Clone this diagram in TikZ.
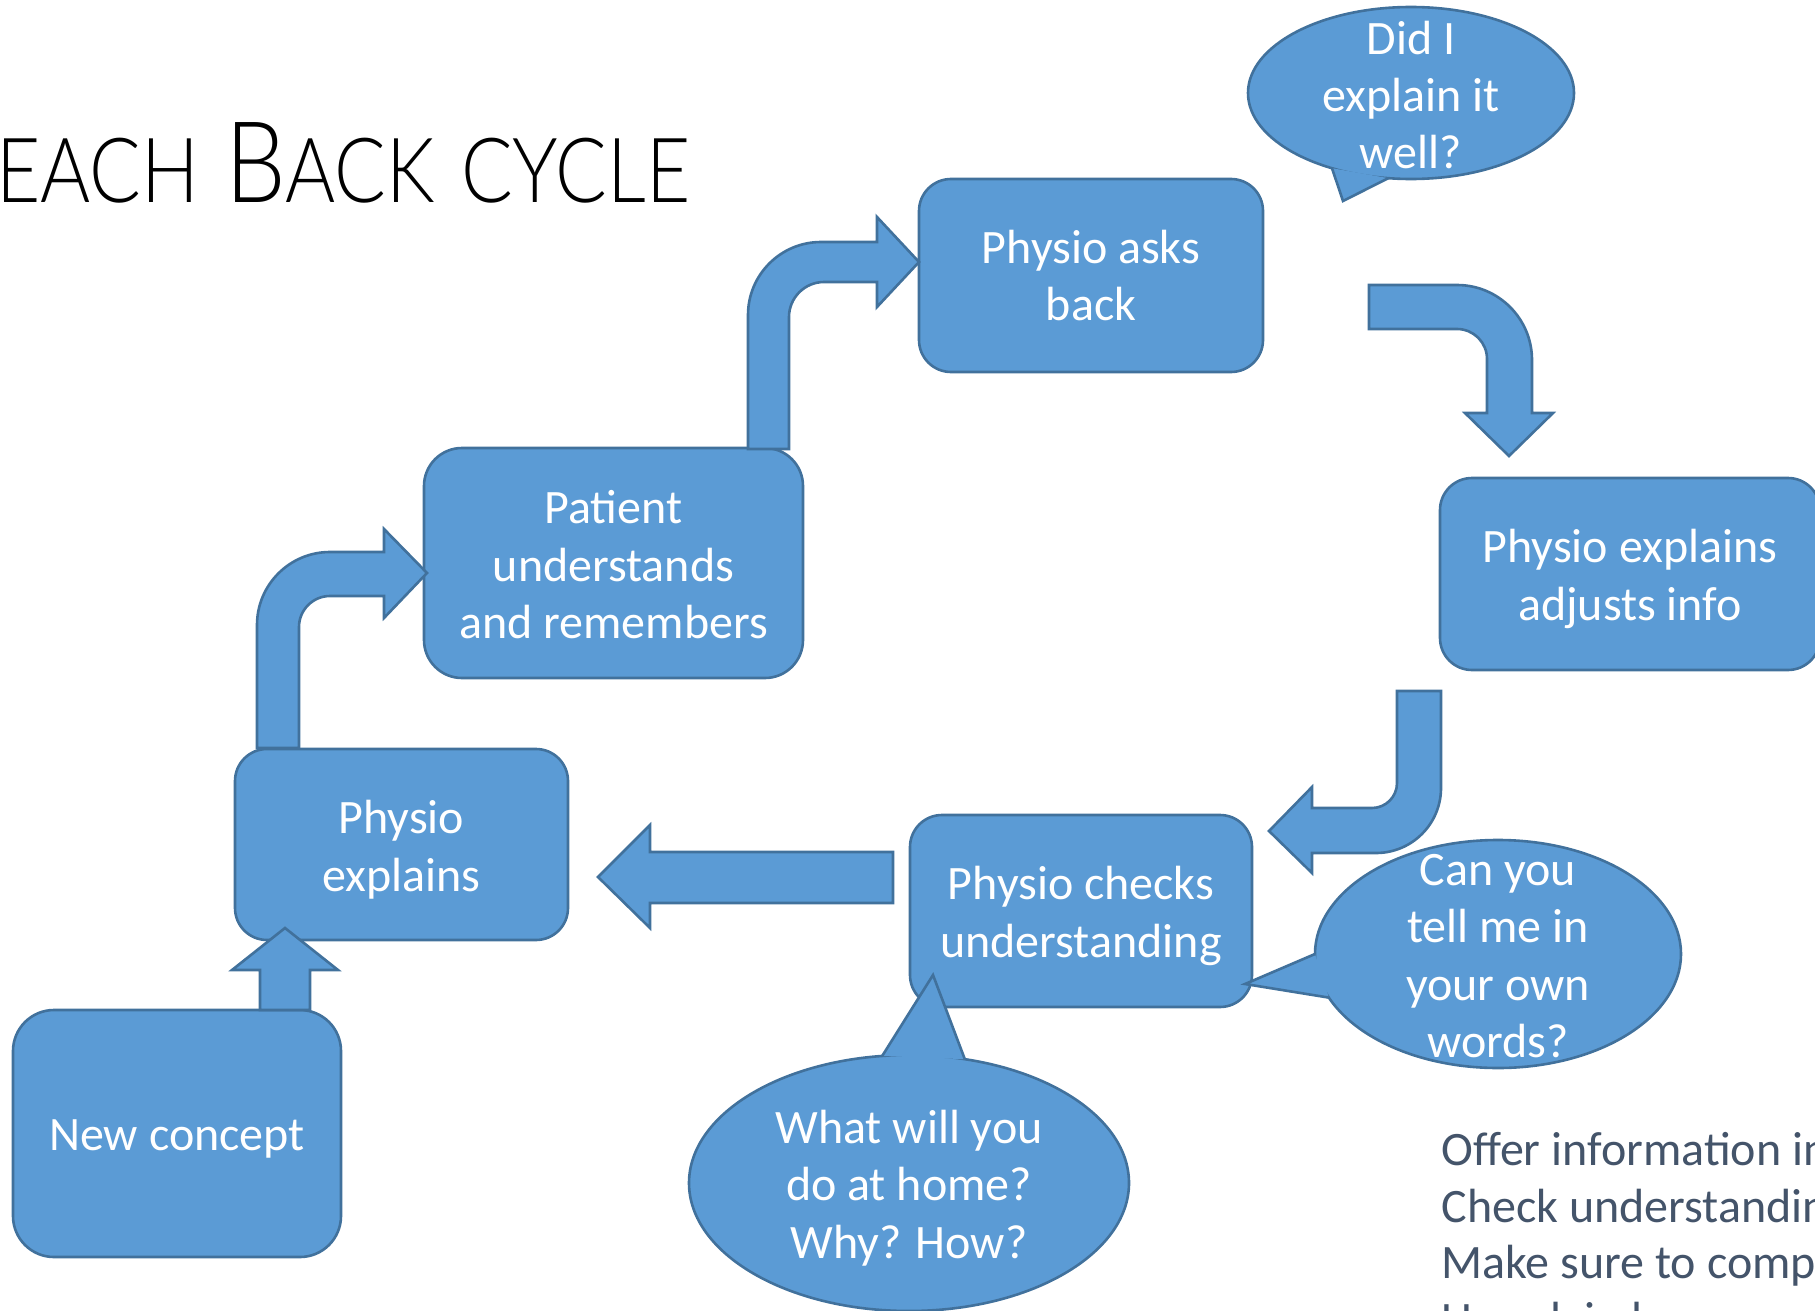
\documentclass[tikz,border=0pt]{standalone}
\usepackage{fontspec}
\setmainfont{Carlito}
\newfontfamily\titlefont{Lato Light}
\definecolor{shapefill}{HTML}{5B9BD5}
\definecolor{shapeline}{HTML}{41719C}
\definecolor{notetext}{HTML}{44546A}
\newcommand{\bodysize}{\fontsize{24}{28.7}\selectfont}
\newcommand{\titlecap}[1]{{\fontsize{56.5}{56.5}\selectfont #1}}
\newcommand{\titlesmall}[1]{{\fontsize{45}{45}\selectfont #1}}

\begin{document}
\begin{tikzpicture}[x=0.5pt, y=-0.5pt,
  outline/.style={fill=shapefill, draw=shapeline, line width=1.3pt, line join=miter, miter limit=10},
  stage/.style={outline, inner sep=0pt},
  words/.style={text=white, align=center, inner sep=0pt, font=\bodysize},
  notes/.style={anchor=base west, text=notetext, inner sep=0pt, font=\bodysize},
]
\clip (0,0) rectangle (1815,1311);

% title
\node[anchor=base east, inner sep=0pt, font=\titlefont] (title) at (691,202)
  {\scalebox{0.85}[1]{\titlecap{T}\titlesmall{EACH}\titlecap{ B}\titlesmall{ACK}\titlecap{ }\titlesmall{CYCLE}}};

% stages of the cycle
\node[stage, minimum width=172pt, minimum height=96.5pt, rounded corners=16pt] (asks) at (1091,275.5) {};
\node[stage, minimum width=189.5pt, minimum height=115pt, rounded corners=19pt] (patient) at (613.5,563) {};
\node[stage, minimum width=190pt, minimum height=96pt, rounded corners=16pt] (adjust) at (1630,574) {};
\node[stage, minimum width=166.5pt, minimum height=95.5pt, rounded corners=16pt] (explain) at (401.5,844.5) {};
\node[stage, minimum width=171pt, minimum height=96pt, rounded corners=16pt] (check) at (1081,911) {};
\node[stage, minimum width=164pt, minimum height=123.5pt, rounded corners=20.5pt] (concept) at (177,1133.5) {};

\node[words] (asksText) at (asks.center) {Physio asks\\back};
\node[words] (patientText) at ([yshift=-0.8pt]patient.center) {Patient\\understands\\and remembers};
\node[words] (adjustText) at ([yshift=-2.5pt]adjust.center) {Physio explains\\adjusts info};
\node[words] (explainText) at ([yshift=-2.5pt]explain.center) {Physio\\explains};
\node[words] (checkText) at ([yshift=-2.5pt]check.center) {Physio checks\\understanding};
\node[words] (conceptText) at ([yshift=-2.5pt]concept.center) {New concept};

% block arrows between the stages
% new concept -> physio explains
\draw[outline] (260,1010) -- (260,970) -- (232,970) -- (285,928) -- (338,970) -- (310,970) -- (310,1010) -- cycle;
% physio explains -> patient understands
\draw[outline] (257,748) -- (257,625) .. controls (257,584.7) and (289.7,552) .. (330,552)
  -- (384,552) -- (384,529) -- (427,573) -- (384,618) -- (384,596) -- (330,596)
  .. controls (312.9,596) and (299,609.9) .. (299,627) -- (299,748) -- cycle;
% patient understands -> physio asks back
\draw[outline] (748,449) -- (748,315) .. controls (748,274.7) and (780.7,242) .. (821,242)
  -- (877,242) -- (877,217) -- (919,262) -- (877,307) -- (877,282) -- (824,282)
  .. controls (804.7,282) and (789,297.7) .. (789,317) -- (789,449) -- cycle;
% physio asks back -> physio explains / adjusts info
\draw[outline] (1369,285) -- (1457,285) .. controls (1498.4,285) and (1532,318.6) .. (1532,360)
  -- (1532,413) -- (1553,413) -- (1509,456) -- (1465,413) -- (1487,413) -- (1487,359)
  .. controls (1487,342.4) and (1473.6,329) .. (1457,329) -- (1369,329) -- cycle;
% adjusts info -> physio checks understanding
\draw[outline] (1397,691) -- (1441,691) -- (1441,788) .. controls (1441,823.9) and (1411.9,853) .. (1376,853)
  -- (1312,853) -- (1312,873) -- (1269,831) -- (1312,787) -- (1312,808) -- (1372,808)
  .. controls (1385.8,808) and (1397,796.8) .. (1397,783) -- cycle;
% physio checks understanding -> physio explains
\draw[outline] (893,852) -- (650,852) -- (650,825) -- (598,877) -- (650,928) -- (650,903) -- (893,903) -- cycle;

% speech bubbles
\coordinate (qA) at (1411,93);
\coordinate (qAtip) at (1343,201);
\path (qA) ++(119:163 and 86) coordinate (qA1);
\path (qA) ++(98:163 and 86) coordinate (qA2);
\draw[outline] (qA) ellipse [x radius=163, y radius=86];
\fill[shapefill] (qA1) -- (qAtip) -- (qA2) -- cycle;
\draw[shapeline, line width=1.3pt, line join=miter] (qA1) -- (qAtip) -- (qA2);

\coordinate (qB) at (1498,954);
\coordinate (qBtip) at (1245,984);
\path (qB) ++(180:183 and 114) coordinate (qB1);
\path (qB) ++(157.5:183 and 114) coordinate (qB2);
\draw[outline] (qB) ellipse [x radius=183, y radius=114];
\fill[shapefill] (qB1) -- (qBtip) -- (qB2) -- cycle;
\draw[shapeline, line width=1.3pt, line join=miter] (qB1) -- (qBtip) -- (qB2);

\coordinate (qC) at (909,1183);
\coordinate (qCtip) at (933,975);
\path (qC) ++(263:220 and 128) coordinate (qC1);
\path (qC) ++(284.7:220 and 128) coordinate (qC2);
\draw[outline] (qC) ellipse [x radius=220, y radius=128];
\fill[shapefill] (qC1) -- (qCtip) -- (qC2) -- cycle;
\draw[shapeline, line width=1.3pt, line join=miter] (qC1) -- (qCtip) -- (qC2);

\node[words] (qAtext) at ([yshift=-1pt]qA) {Did I\\explain it\\well?};
\node[words] (qBtext) at ([yshift=-1pt]qB) {Can you\\tell me in\\your own\\words?};
\node[words] (qCtext) at ([yshift=-2.5pt]qC) {What will you\\do at home?\\Why? How?};

% notes at the lower right
\node[notes] (note1) at (1441,1165) {Offer information in};
\node[notes] (note2) at (1441,1222) {Check understanding};
\node[notes] (note3) at (1441,1278) {Make sure to comp};
\node[notes] (note4) at (1441,1335) {Use plain language};
\end{tikzpicture}
\end{document}
